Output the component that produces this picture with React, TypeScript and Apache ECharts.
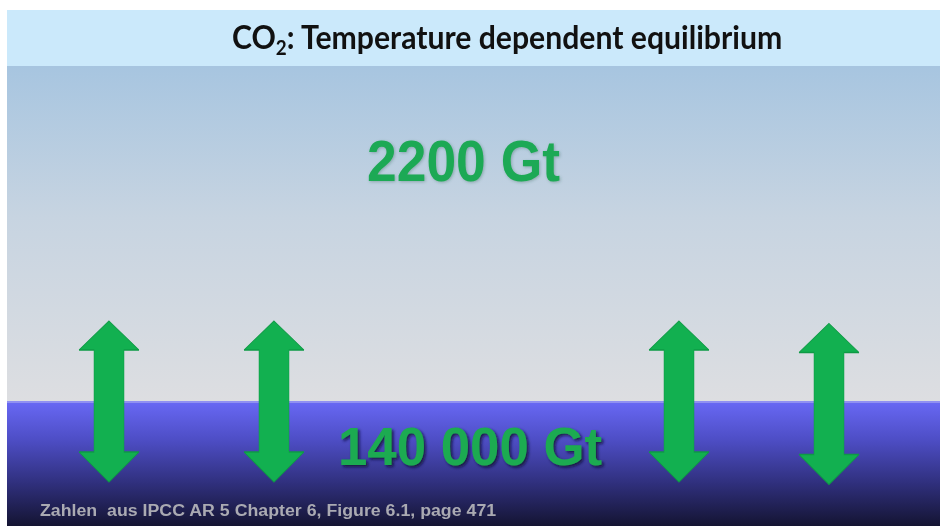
import React, { useEffect, useRef } from "react";
import * as echarts from "echarts";

// ---- content / values ----
const titleMain = "CO";
const titleSub = "2";
const titleRest = ": Temperature dependent equilibrium";
const atmosphereLabel = "2200 Gt";
const oceanLabel = "140 000 Gt";
const footnote = "Zahlen  aus IPCC AR 5 Chapter 6, Figure 6.1, page 471";
// exchange arrows: positions on the hidden value axes (0..940 / 0..526)
const arrowX = [109, 274, 679, 829];
const arrowY = [401.5, 401.5, 401.5, 404];

const W = 940;
const H = 526;

function measure(text: string, font: string): number {
  const c = document.createElement("canvas").getContext("2d");
  if (!c) return text.length * 10;
  c.font = font;
  return c.measureText(text).width;
}

export default function App() {
  const ref = useRef<HTMLDivElement>(null);

  useEffect(() => {
    if (!ref.current) return;
    const chart = echarts.init(ref.current, undefined, { renderer: "svg", width: W, height: H });

    const titleFamily = "Lato";
    const tBig = 32;
    const tSmall = 20;
    const titleW =
      measure(titleMain, `bold ${tBig}px ${titleFamily}`) +
      measure(titleSub, `bold ${tSmall}px ${titleFamily}`) +
      measure(titleRest, `bold ${tBig}px ${titleFamily}`);
    const titleScale = 551 / titleW;

    const sansBold = "'Liberation Sans'";
    const atmoSize = 58;
    const atmoScale = 193 / measure(atmosphereLabel, `bold ${atmoSize}px ${sansBold}`);
    const oceanSize = 53;
    const oceanScale = 264 / measure(oceanLabel, `bold ${oceanSize}px ${sansBold}`);
    const footSize = 17;
    const footScale = 457 / measure(footnote, `bold ${footSize}px ${sansBold}`);

    const arrowPath =
      "path://M30,0L60,29L45,29L45,131L60,131L30,161L0,131L15,131L15,29L0,29Z";

    chart.setOption({
      animation: false,
      grid: { left: 0, right: 0, top: 0, bottom: 0 },
      xAxis: { type: "value", min: 0, max: W, show: false },
      yAxis: { type: "value", min: 0, max: H, inverse: true, show: false },
      graphic: [
        { type: "rect", z: -10, shape: { x: 0, y: 0, width: W, height: H }, style: { fill: "#ffffff" } },
        { type: "rect", z: -9, shape: { x: 7, y: 10, width: W - 7, height: 56 }, style: { fill: "#cbe9fb" } },
        {
          type: "rect",
          z: -9,
          shape: { x: 7, y: 66, width: W - 7, height: 336 },
          style: {
            fill: new echarts.graphic.LinearGradient(0, 0, 0, 1, [
              { offset: 0, color: "#a7c5e0" },
              { offset: 0.45, color: "#c7d4e1" },
              { offset: 1, color: "#dddee1" },
            ]),
          },
        },
        {
          type: "rect",
          z: -9,
          shape: { x: 7, y: 402, width: W - 7, height: H - 402 },
          style: {
            fill: new echarts.graphic.LinearGradient(0, 0, 0, 1, [
              { offset: 0, color: "#6868f4" },
              { offset: 0.3, color: "#4e4ec6" },
              { offset: 0.65, color: "#30307e" },
              { offset: 1, color: "#141432" },
            ]),
          },
        },
        { type: "rect", z: -8, shape: { x: 7, y: 401, width: W - 7, height: 2 }, style: { fill: "#9090f2" } },
        {
          type: "text",
          z: 10,
          x: 232,
          y: 37,
          scaleX: titleScale,
          style: {
            text: `{a|${titleMain}}{s|${titleSub}}{a|${titleRest}}`,
            align: "left",
            verticalAlign: "middle",
            rich: {
              a: {
                fontFamily: titleFamily,
                fontWeight: "bold",
                fontSize: tBig,
                lineHeight: 40,
                fill: "#111111",
                verticalAlign: "middle",
              },
              s: {
                fontFamily: titleFamily,
                fontWeight: "bold",
                fontSize: tSmall,
                lineHeight: 40,
                fill: "#111111",
                verticalAlign: "bottom",
              },
            },
          },
        },
        {
          type: "text",
          z: 10,
          x: 367,
          y: 161,
          scaleX: atmoScale,
          style: {
            text: atmosphereLabel,
            fontFamily: sansBold,
            fontWeight: "bold",
            fontSize: atmoSize,
            fill: "#1fa954",
            align: "left",
            verticalAlign: "middle",
            textShadowColor: "rgba(40,90,70,0.35)",
            textShadowBlur: 3,
            textShadowOffsetX: 1,
            textShadowOffsetY: 1,
          },
        },
        {
          type: "text",
          z: 10,
          x: 338,
          y: 446,
          scaleX: oceanScale,
          style: {
            text: oceanLabel,
            fontFamily: sansBold,
            fontWeight: "bold",
            fontSize: oceanSize,
            fill: "#1cab51",
            align: "left",
            verticalAlign: "middle",
            textShadowColor: "rgba(10,10,50,0.8)",
            textShadowBlur: 3,
            textShadowOffsetX: 2,
            textShadowOffsetY: 2,
          },
        },
        {
          type: "text",
          z: 10,
          x: 40,
          y: 510,
          scaleX: footScale,
          style: {
            text: footnote,
            fontFamily: sansBold,
            fontWeight: "bold",
            fontSize: footSize,
            fill: "#aaaab2",
            align: "left",
            verticalAlign: "middle",
          },
        },
      ],
      series: [
        {
          type: "scatter",
          silent: true,
          symbol: arrowPath,
          symbolSize: [60, 161],
          itemStyle: { color: "#12b050", opacity: 1, borderColor: "#0e9a45", borderWidth: 0.8 },
          data: arrowX.map((x, i) => [x, arrowY[i]]),
          z: 5,
        },
      ],
    });

    return () => chart.dispose();
  }, []);

  return (
    <div
      ref={ref}
      style={{ position: "fixed", left: 0, top: 0, width: W, height: H }}
    />
  );
}
